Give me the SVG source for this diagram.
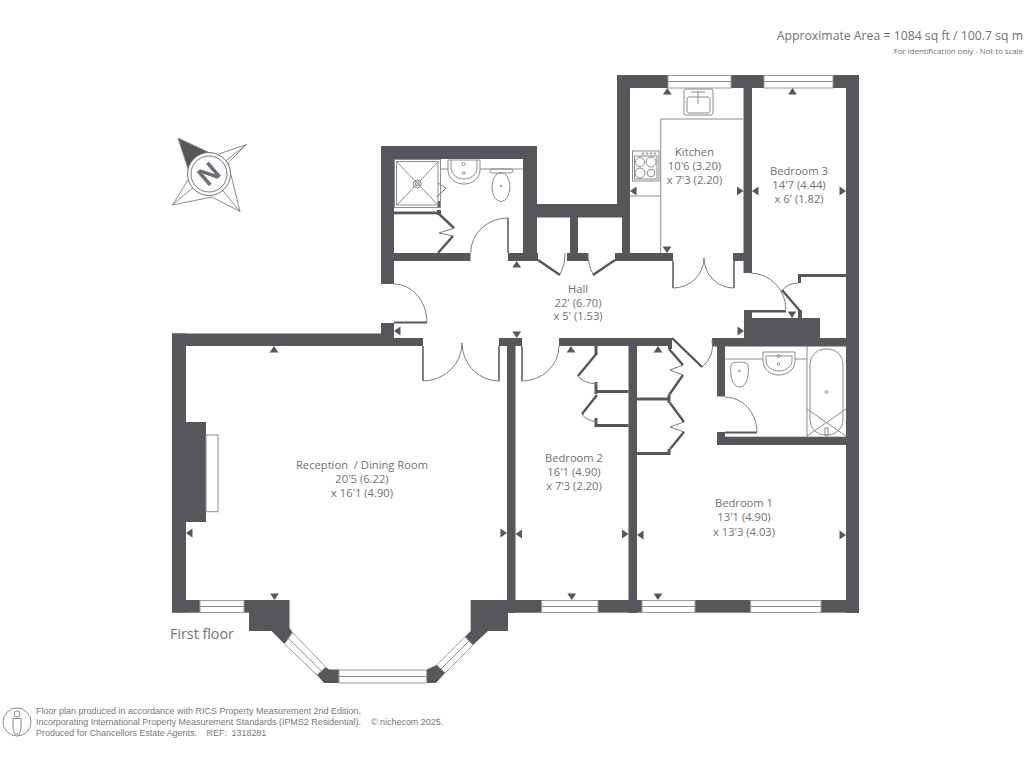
<svg xmlns="http://www.w3.org/2000/svg" width="1024" height="768" viewBox="0 0 1024 768">
<style>
.w{fill:#58565a}
.l{fill:none;stroke:#8c8b8e;stroke-width:1}
.a{fill:none;stroke:#7d7c80;stroke-width:1}
.j{fill:none;stroke:#58565a;stroke-width:1.5}
.d{fill:none;stroke:#58565a;stroke-width:2.4}
.win{fill:#fff;stroke:#9a999c;stroke-width:1}
.t{font-family:"Open Sans","Noto Sans",sans-serif;fill:#717174;font-size:11.2px;text-anchor:middle}
.f{font-family:"Liberation Sans",Arial,sans-serif;fill:#77777a;font-size:8.95px}
</style>
<defs><path id="tr" class="w" d="M0 0L4.400 6.500H-4.400Z"/></defs>
<rect width="1024" height="768" fill="#fff"/>
<g id="walls" class="w">
<rect x="172" y="333.500" width="14" height="279"/>
<rect x="172" y="333.500" width="209" height="12.500"/>
<rect x="381" y="323" width="13" height="23"/>
<rect x="381" y="338" width="42" height="8"/>
<rect x="172" y="422" width="34" height="100"/>
<rect x="381" y="146" width="13" height="138"/>
<rect x="381" y="146" width="156" height="13"/>
<rect x="523" y="146" width="14" height="115"/>
<rect x="523" y="204" width="107" height="13.500"/>
<rect x="394" y="253" width="76.500" height="8"/>
<rect x="508" y="253" width="30" height="8"/>
<rect x="570" y="217" width="8" height="44"/>
<rect x="567" y="253" width="21" height="8"/>
<rect x="615" y="253" width="58" height="8"/>
<rect x="622" y="217" width="8" height="40"/>
<rect x="617" y="75" width="13" height="142"/>
<rect x="617" y="75" width="51" height="13"/>
<rect x="731" y="75" width="33" height="13"/>
<rect x="833" y="75" width="26" height="13"/>
<rect x="846" y="75" width="13" height="538"/>
<rect x="743.500" y="75" width="8.500" height="198"/>
<rect x="733" y="253" width="19" height="8"/>
<rect x="744" y="310" width="8" height="28"/>
<rect x="744" y="318" width="76" height="28"/>
<rect x="752" y="310" width="34" height="2.500"/>
<rect x="798" y="310" width="4" height="8"/>
<rect x="798" y="274" width="48" height="3"/>
<rect x="798" y="274" width="3" height="9"/>
<rect x="712" y="338" width="147" height="8.500"/>
<rect x="559" y="338" width="113" height="8"/>
<rect x="628.500" y="338" width="8.500" height="275"/>
<rect x="717" y="346" width="8" height="50.500"/>
<rect x="717" y="436.700" width="142" height="8.300"/>
<rect x="717" y="432" width="8" height="13"/>
<rect x="725" y="431.500" width="32" height="2"/>
<rect x="499" y="338" width="23" height="8"/>
<rect x="507" y="338" width="8.500" height="275"/>
<rect x="394" y="321.500" width="33" height="2"/>
<rect x="394" y="211.500" width="46" height="2.800"/>
<rect x="437" y="210" width="4" height="5"/>
<rect x="437.500" y="201" width="3.500" height="6"/>
<rect x="594.500" y="346" width="3" height="9"/>
<rect x="594.500" y="382" width="3" height="12"/>
<rect x="597" y="390" width="31.500" height="3"/>
<rect x="594.500" y="418" width="3" height="9"/>
<rect x="597" y="424" width="31.500" height="3"/>
<rect x="668" y="346" width="4" height="3"/>
<rect x="637" y="397.500" width="33" height="3"/>
<rect x="667.500" y="395" width="3" height="8"/>
<rect x="637" y="452" width="33" height="3"/>
<rect x="667.500" y="449" width="3" height="6"/>
<rect x="172" y="600" width="28" height="12.700"/>
<rect x="244" y="600" width="45.500" height="12.700"/>
<rect x="249" y="612" width="40.500" height="19"/>
<path d="M271.500 631L284.500 644L292.500 632.500L289.500 628Z"/>
<path d="M317 675L325.700 667L329 669.500H339V683H324Z"/>
<path d="M426.700 669.500L436.700 665L445 673L436 683H426.700Z"/>
<path d="M465 636.700L470.700 631V600H541.700V612.700H508V631H488L473 645Z"/>
<rect x="598" y="600" width="44" height="12.700"/>
<rect x="695" y="600" width="55.700" height="12.700"/>
<rect x="821" y="600" width="38" height="12.700"/>
</g>
<g id="windows">
<g class="win">
<rect x="668" y="75.500" width="63" height="12.500"/>
<rect x="764" y="75.500" width="69" height="12.500"/>
<rect x="200" y="600.500" width="44" height="12"/>
<path d="M284.500 644L292.500 632.500L325.700 667L317 675Z"/>
<rect x="339" y="670" width="87.700" height="13"/>
<path d="M436.700 665L465 636.700L473 645L445 673Z"/>
<rect x="541.700" y="600.500" width="56.300" height="12"/>
<rect x="642" y="600.500" width="53" height="12"/>
<rect x="750.700" y="600.500" width="70.300" height="12"/>
</g>
<path class="l" d="M668 81.500H731M764 81.500H833M200 606.500H244M288.500 638.500L321.500 671M339 676.500H426.700M441 669L469 641M541.700 606.500H598M642 606.500H695M750.700 606.500H821"/>
</g>
<g id="doors">
<path class="j" d="M423 346V381M499 346V381M522 346V381M508 218V253M673 261V288M734 261V288"/>
<g class="a">
<path d="M394 284A33 38 0 0 1 427 322"/>
<path d="M423 381A39 38 0 0 0 462 343A37 38 0 0 0 499 381"/>
<path d="M522 381A37 35 0 0 0 559 346"/>
<path d="M470.700 253A37 35 0 0 1 508 218"/>
<path d="M673 288A31 30 0 0 0 704 258A30 30 0 0 0 734 288"/>
<path d="M751 273A36 37 0 0 1 786 310"/>
<path d="M783 290A18 10 0 0 1 798 283"/>
<path d="M702 367A28 27 0 0 0 712 340"/>
<path d="M725 397A32 35 0 0 1 757 432"/>
<path d="M565 253A18 30 0 0 1 560 274"/>
<path d="M588 253A18 30 0 0 0 593 274"/>
<path d="M578 376A22 12 0 0 0 597 384"/>
<path d="M582 414A22 12 0 0 0 597 422"/>
<path d="M438 183L446 188L437 197"/>
<path d="M454 228L439 233L453 236"/>
<path d="M683 365L670 370L683 375"/>
<path d="M684 422L670 427L684 432"/>
</g>
<path class="d" d="M538 260L560 275M593 275L615 260"/>
<path class="d" d="M439 214L454 228M453 236L438 253"/>
<path class="d" d="M782 290L800 311"/>
<path class="d" d="M672 338L702 367"/>
<path class="d" d="M597 353L578 376M597 395L582 414"/>
<path class="d" d="M669 349L683 365M683 375L669 395M670 403L684 422M684 432L670 449"/>
</g>
<g id="fixtures" class="l">
<rect x="206" y="435" width="12" height="76.700"/>
<rect x="394.500" y="159.500" width="46" height="48"/>
<rect x="396.500" y="161.500" width="41.500" height="43.500"/>
<path d="M397 162L438 205M438 162L397 205"/>
<circle cx="417.300" cy="184" r="4"/>
<circle cx="417.300" cy="184" r="2"/>
<path d="M441 169H448M480 169H523"/>
<path d="M448 160V170C448 179 456 184 464 184C472 184 480 179 480 170V160Z"/>
<path d="M451 160V168C451 175 458 179 464 179C470 179 477 175 477 168V160"/>
<circle cx="463.500" cy="164" r="1.500"/><circle cx="463.500" cy="173" r="1.300"/>
<rect x="490" y="169" width="23" height="4" rx="2"/>
<ellipse cx="501" cy="187" rx="9" ry="14.500"/>
<circle cx="501" cy="186" r=".8"/>
<path d="M660.700 253V119H743"/>
<rect x="684" y="89" width="29" height="26" rx="2"/>
<rect x="687" y="97" width="23" height="16" rx="2"/>
<path d="M698 91V104M691 92H705"/>
<rect x="632.500" y="151" width="26.500" height="30"/>
<rect x="634.500" y="156" width="22.500" height="23"/>
<circle cx="643" cy="153.500" r=".8"/><circle cx="647" cy="153.500" r=".8"/><circle cx="651" cy="153.500" r=".8"/><circle cx="655" cy="153.500" r=".8"/>
<circle cx="640" cy="162" r="4.500"/><circle cx="651" cy="162" r="5"/><circle cx="640" cy="173" r="5"/><circle cx="651" cy="173" r="3.800"/>
<path d="M630 196H660.700"/>
<path d="M725 359H763M795 359H807"/>
<path d="M763 352V361C763 370 771 375 779 375C787 375 795 370 795 361V352Z"/>
<path d="M766 356V361C766 367 773 371 779 371C785 371 792 367 792 361V356Z"/>
<circle cx="778.500" cy="356" r="1.500"/><circle cx="778.500" cy="364" r="1.300"/>
<path d="M731 365C731 361 748 361 748 365C749 372 748 387 739.500 387C731 387 730 372 731 365Z"/>
<circle cx="739.500" cy="371" r=".8"/>
<path d="M807 346V437"/>
<rect x="810" y="349" width="33" height="86" rx="15"/>
<path d="M807 409L846 436M846 409L807 436"/>
<circle cx="826.500" cy="392" r="1.500"/>
<rect x="825" y="428" width="3" height="7"/>
</g>
<g id="dimension-ticks">
<use href="#tr" transform="translate(667.300 88)"/>
<use href="#tr" transform="translate(792.500 88)"/>
<use href="#tr" transform="translate(630 191) rotate(-90)"/>
<use href="#tr" transform="translate(743.500 191) rotate(90)"/>
<use href="#tr" transform="translate(752 191) rotate(-90)"/>
<use href="#tr" transform="translate(846 191) rotate(90)"/>
<use href="#tr" transform="translate(667 253) rotate(180)"/>
<use href="#tr" transform="translate(516.700 261)"/>
<use href="#tr" transform="translate(394 331) rotate(-90)"/>
<use href="#tr" transform="translate(516.700 338) rotate(180)"/>
<use href="#tr" transform="translate(571 346)"/>
<use href="#tr" transform="translate(744 331) rotate(90)"/>
<use href="#tr" transform="translate(658 346)"/>
<use href="#tr" transform="translate(792 318) rotate(180)"/>
<use href="#tr" transform="translate(274 346)"/>
<use href="#tr" transform="translate(186 533) rotate(-90)"/>
<use href="#tr" transform="translate(507 533) rotate(90)"/>
<use href="#tr" transform="translate(274.500 600) rotate(180)"/>
<use href="#tr" transform="translate(515.500 534) rotate(-90)"/>
<use href="#tr" transform="translate(628.500 534) rotate(90)"/>
<use href="#tr" transform="translate(637 535) rotate(-90)"/>
<use href="#tr" transform="translate(846 535) rotate(90)"/>
<use href="#tr" transform="translate(571.700 600) rotate(180)"/>
<use href="#tr" transform="translate(658 600) rotate(180)"/>
</g>
<g id="compass">
<path fill="#58565a" d="M178 138L208 152L189 172Z"/>
<path class="l" d="M178 138L208 152M178 138L189 172M216 155L246.500 144.500L228 163L240 211.500L212 197L172.500 205L188 180M246.500 144.500L209 174M240 211.500L209 174M172.500 205L209 174"/>
<circle cx="209" cy="174" r="21.500" fill="#fff" stroke="#77777a"/>
<circle cx="209" cy="174" r="18" fill="none" stroke="#77777a"/>
<text x="209" y="174" font-family="'Liberation Sans',sans-serif" font-weight="700" font-size="27" fill="#6d6e71" text-anchor="middle" dominant-baseline="central" transform="rotate(-41 209 174)">N</text>
</g>
<g id="room-kitchen" class="t"><text x="694.500" y="156">Kitchen</text><text x="694.500" y="170">10'6 (3.20)</text><text x="694.500" y="184">x 7'3 (2.20)</text></g>
<g id="room-bedroom3" class="t"><text x="799" y="174.500">Bedroom 3</text><text x="799" y="188.500">14'7 (4.44)</text><text x="799" y="202.500">x 6' (1.82)</text></g>
<g id="room-hall" class="t"><text x="578" y="293">Hall</text><text x="578" y="306.500">22' (6.70)</text><text x="578" y="320">x 5' (1.53)</text></g>
<g id="room-reception" class="t"><text x="362" y="469" xml:space="preserve">Reception  / Dining Room</text><text x="362" y="483">20'5 (6.22)</text><text x="362" y="497">x 16'1 (4.90)</text></g>
<g id="room-bedroom2" class="t"><text x="574" y="462">Bedroom 2</text><text x="574" y="476">16'1 (4.90)</text><text x="574" y="490">x 7'3 (2.20)</text></g>
<g id="room-bedroom1" class="t"><text x="744" y="507">Bedroom 1</text><text x="744" y="521">13'1 (4.90)</text><text x="744" y="536">x 13'3 (4.03)</text></g>
<text x="170" y="639" class="t" style="text-anchor:start;font-size:14.300px">First floor</text>
<text x="1023" y="39.500" class="t" style="text-anchor:end;font-size:12.250px">Approximate Area = 1084 sq ft / 100.7 sq m</text>
<text x="1023" y="54" class="t" style="text-anchor:end;font-size:7.850px">For identification only - Not to scale</text>
<g id="footer">
<circle cx="17" cy="722" r="14" fill="none" stroke="#8c8b8e"/>
<circle cx="17" cy="714" r="3" fill="none" stroke="#8c8b8e"/>
<path class="l" d="M13 718.500H21V728L19.500 734H14.500L13 728Z"/>
<text class="f" x="36" y="714" textLength="325" lengthAdjust="spacing">Floor plan produced in accordance with RICS Property Measurement 2nd Edition,</text>
<text class="f" x="36" y="725">Incorporating International Property Measurement Standards (IPMS2 Residential).</text>
<text class="f" x="371" y="725">© nichecom 2025.</text>
<text class="f" x="36" y="736">Produced for Chancellors Estate Agents.</text>
<text class="f" x="206.500" y="736">REF:</text>
<text class="f" x="231.500" y="736">1318281</text>
</g>
</svg>
